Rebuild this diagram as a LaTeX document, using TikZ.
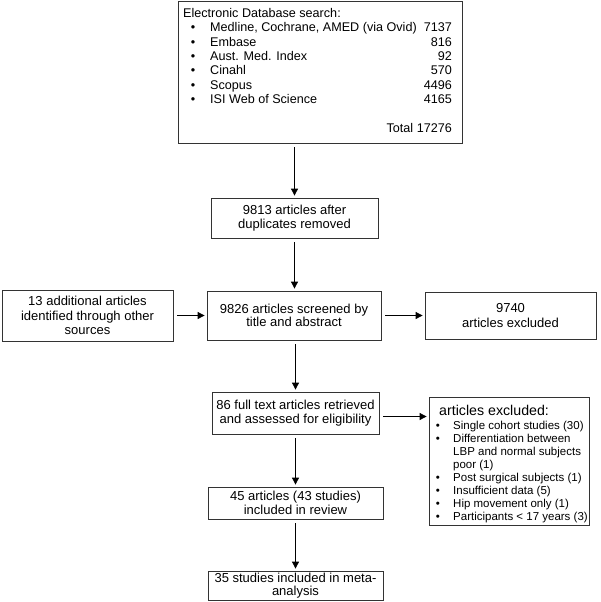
\documentclass[tikz,border=0pt]{standalone}
\usepackage{fontspec}
\setmainfont{Liberation Sans}
\usetikzlibrary{arrows.meta}
\begin{document}
\begin{tikzpicture}[x=1pt,y=-1pt,
  box/.style={draw=black!80, line width=0.8pt, align=center, inner sep=0pt, font=\fontsize{13}{14.5}\selectfont},
  arr/.style={draw=black, line width=0.8pt, -{Triangle[length=7pt,width=7pt]}, shorten <=4pt, shorten >=2pt},
  txt/.style={inner sep=0pt, font=\fontsize{12.6}{14.3}\selectfont},
  small/.style={inner sep=0pt, font=\fontsize{11.5}{13}\selectfont}]
\useasboundingbox (0,0) rectangle (600,602);

% top search box
\node[box, minimum width=284pt, minimum height=142pt] (top) at (320,72) {};
\node[txt, anchor=base west] (head) at (183,17.5) {Electronic Database search:};
\foreach \i/\nm/\num in {1/{Medline, Cochrane, AMED (via Ovid)}/7137, 2/Embase/816, 3/Aust. Med. Index/92, 4/Cinahl/570, 5/Scopus/4496, 6/ISI Web of Science/4165}{
  \node[txt, anchor=base] (b\i) at (193,17.5+14.3*\i) {•};
  \node[txt, anchor=base west] (n\i) at (210,17.5+14.3*\i) {\nm};
  \node[txt, anchor=base east] (v\i) at (452,17.5+14.3*\i) {\num};
}
\node[txt, anchor=base east] (total) at (452,132) {Total 17276};

% main column
\node[box, minimum width=167pt, minimum height=40pt] (dup) at (294.5,218) {9813 articles after\\duplicates removed};
\node[box, minimum width=174pt, minimum height=49pt, font=\fontsize{13}{13.5}\selectfont] (scr) at (294,315.5) {9826 articles screened by\\title and abstract};
\node[box, minimum width=171pt, minimum height=51pt] (add) at (87.5,315.5) {13 additional articles\\identified through other\\sources};
\node[box, minimum width=171pt, minimum height=47pt] (ex1) at (510.5,315.5) {9740\\articles excluded};
\node[box, minimum width=167pt, minimum height=42pt] (full) at (295.5,413) {86 full text articles retrieved\\and assessed for eligibility};
\node[box, minimum width=175pt, minimum height=32pt, font=\fontsize{13}{14}\selectfont] (inc) at (295.5,503) {45 articles (43 studies)\\included in review};
\node[box, minimum width=175pt, minimum height=29pt, font=\fontsize{13}{13}\selectfont] (meta) at (295.5,585.5) {35 studies included in meta-\\analysis};

% excluded list box
\node[box, minimum width=160pt, minimum height=128pt] (excl) at (509,461) {};
\node[inner sep=0pt, font=\fontsize{14.2}{16}\selectfont, anchor=base west] (eh) at (439,415) {articles excluded:};
\foreach \k in {0,1,4,5,6,7}{
  \node[small, anchor=base] (eb\k) at (438,429+13*\k) {•};
}
\foreach \k/\t in {0/Single cohort studies (30), 1/Differentiation between, 2/LBP and normal subjects, 3/poor (1), 4/Post surgical subjects (1), 5/Insufficient data (5), 6/Hip movement only (1), 7/Participants < 17 years (3)}{
  \node[small, anchor=base west] (et\k) at (453,429+13*\k) {\t};
}

% connectors
\draw[arr] (top.south -| dup.north) -- (dup.north);
\draw[arr] (dup.south) -- (dup.south |- scr.north);
\draw[arr] (add.east) -- (scr.west);
\draw[arr] (scr.east) -- (ex1.west);
\draw[arr] (scr.south -| full.north) -- (full.north);
\draw[arr] ([yshift=-3.5pt]full.east) -- ([yshift=-3.5pt]full.east -| excl.west);
\draw[arr] (full.south) -- (inc.north);
\draw[arr] (inc.south) -- (meta.north);
\end{tikzpicture}
\end{document}
